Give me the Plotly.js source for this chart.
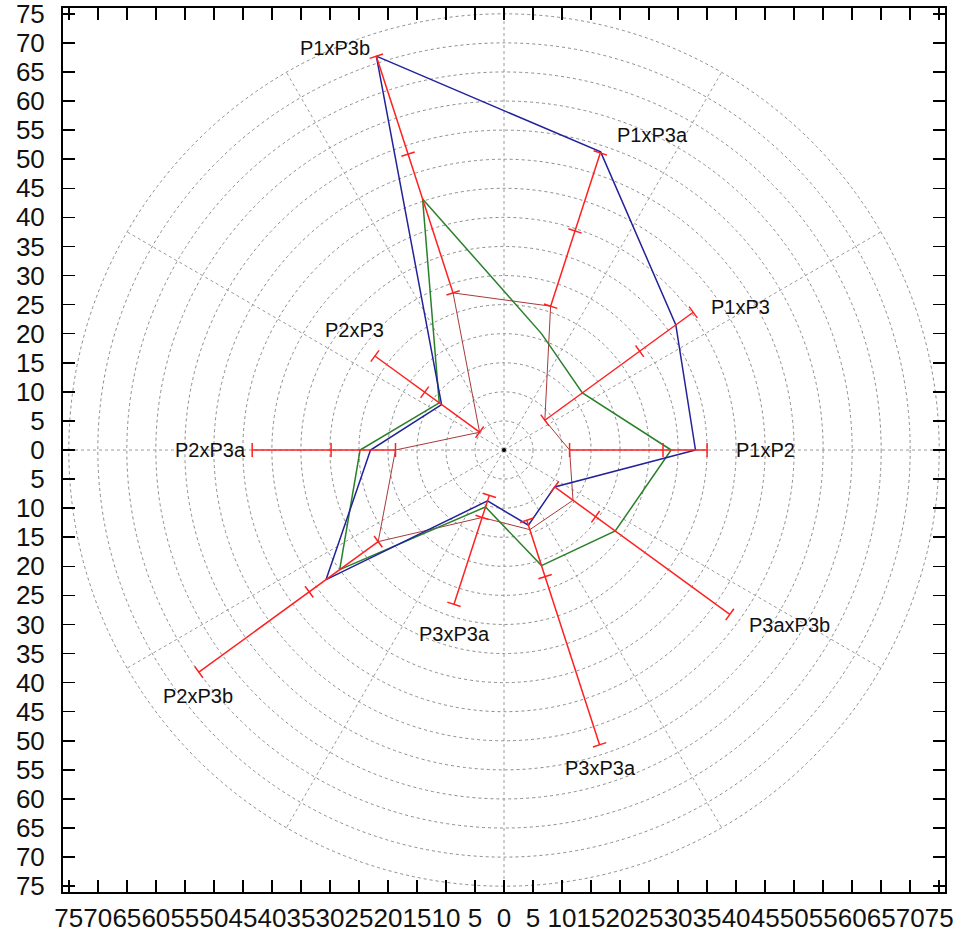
<!DOCTYPE html>
<html>
<head>
<meta charset="utf-8">
<script src="https://cdn.plot.ly/plotly-3.0.1.min.js"></script>
<style>html,body{margin:0;padding:0;background:#fff;}#chart{width:967px;height:932px;}</style>
</head>
<body>
<div id="chart"></div>
<script>
// Spoke names (one spoke every 36 degrees, counter-clockwise from +x)
const spokeNames = ['P1xP2','P1xP3','P1xP3a','P1xP3b','P2xP3','P2xP3a','P2xP3b','P3xP3a','P3xP3a','P3axP3b'];
// Series radii per spoke
const blueR  = [33.0, 36.6, 53.9, 71.2, 13.3, 23.0, 37.9,  9.2, 13.6, 10.8];
const greenR = [28.8, 16.7, 21.0, 45.4, 13.8, 24.8, 35.0, 10.3, 20.9, 23.7];
const brownR = [11.3,  8.7, 26.0, 28.4,  5.2, 18.7, 26.8, 12.2, 14.4, 14.7];
// Red error bars: inner end, middle tick, outer end
const redLow  = [11.3,  8.7, 26.0, 28.4,  5.2, 18.7, 26.8,  8.2, 12.7, 10.8];
const redMid  = [27.4, 28.9, 39.6, 53.5, 16.9, 29.8, 41.5, 12.2, 22.9, 19.5];
const redHigh = [35.0, 40.3, 53.7, 71.2, 27.5, 43.4, 65.0, 27.9, 53.3, 48.1];
// Axis ticks
const tickVals = [];
for (let v = -75; v <= 75; v += 5) tickVals.push(v);
const tickText = tickVals.map(v => String(Math.abs(v)));
// Grid rings
const ringRadii = [5,10,15,20,25,30,35,40,45,50,55,60,65,70,75];

const STEP = 36;
function px(r, k) { return r * Math.cos(k * STEP * Math.PI / 180); }
function py(r, k) { return r * Math.sin(k * STEP * Math.PI / 180); }

function polygon(rs, color, width) {
  const xs = [], ys = [];
  rs.forEach((r, k) => { xs.push(px(r, k)); ys.push(py(r, k)); });
  xs.push(xs[0]); ys.push(ys[0]);
  return {x: xs, y: ys, mode: 'lines', type: 'scatter', hoverinfo: 'skip',
          line: {color: color, width: width}, showlegend: false};
}

const traces = [];
traces.push({x: [0], y: [0], mode: 'markers', type: 'scatter', hoverinfo: 'skip',
             marker: {color: '#000', size: 4}, showlegend: false});
traces.push(polygon(brownR, '#a83a3a', 1));
traces.push(polygon(greenR, '#2a802a', 1.5));
traces.push(polygon(blueR, '#22229a', 1.5));

// red bars
const bx = [], by = [];
redLow.forEach((lo, k) => {
  bx.push(px(lo, k), px(redHigh[k], k), null);
  by.push(py(lo, k), py(redHigh[k], k), null);
});
traces.push({x: bx, y: by, mode: 'lines', type: 'scatter', hoverinfo: 'skip',
             line: {color: '#ff2020', width: 1.5}, showlegend: false});
// caps and middle ticks
const tx = [], ty = [], ta = [];
spokeNames.forEach((n, k) => {
  [redLow[k], redMid[k], redHigh[k]].forEach(r => {
    tx.push(px(r, k)); ty.push(py(r, k)); ta.push(-k * STEP);
  });
});
traces.push({x: tx, y: ty, mode: 'markers', type: 'scatter', hoverinfo: 'skip',
             marker: {symbol: 'line-ns', size: 10, angle: ta,
                      line: {color: '#ff2020', width: 1.5}, color: '#ff2020'},
             showlegend: false});

// grid shapes
const shapes = [];
ringRadii.forEach(r => {
  shapes.push({type: 'circle', xref: 'x', yref: 'y', x0: -r, x1: r, y0: -r, y1: r,
               line: {color: '#8c8c8c', width: 1, dash: 'dot'}, layer: 'below'});
});
for (let a = 0; a < 360; a += 30) {
  const t = a * Math.PI / 180;
  shapes.push({type: 'line', xref: 'x', yref: 'y', x0: 0, y0: 0,
               x1: 75 * Math.cos(t), y1: 75 * Math.sin(t),
               line: {color: '#9a9a9a', width: 1, dash: 'dot'}, layer: 'below'});
}

// spoke labels (positions in data units)
const labelX = [39.7, 35.4, 19.05, -22.8, -25.8, -44.2, -52.8, -8.5, 16.6, 49.2];
const labelY = [0, 24.6, 54.2, 69.2, 20.6, 0, -42.3, -31.6, -54.7, -30.1];
const labelAnchor = ['left','left','left','right','center','right','center','center','center','center'];
const annotations = spokeNames.map((n, k) => ({
  x: labelX[k], y: labelY[k], xref: 'x', yref: 'y', text: n, showarrow: false,
  xanchor: labelAnchor[k], yanchor: 'middle',
  font: {family: 'Liberation Sans, Arial, sans-serif', size: 20, color: '#111'}
}));

const tickFont = {family: 'Liberation Sans', size: 26, color: '#111'};
const layout = {
  width: 967, height: 932,
  margin: {l: 63, r: 22, t: 8, b: 40},
  paper_bgcolor: '#fff', plot_bgcolor: '#fff',
  xaxis: {
    range: [-76, 76], tickmode: 'array', tickvals: tickVals, ticktext: tickText,
    showgrid: false, zeroline: false, showline: true, mirror: 'ticks',
    linecolor: '#000', linewidth: 2, ticks: 'inside', ticklen: 12, tickwidth: 1.5,
    tickcolor: '#000', tickangle: 0, tickfont: tickFont, ticklabelstandoff: 2,
    ticklabeloverflow: 'allow'
  },
  yaxis: {
    range: [-76, 76], tickmode: 'array', tickvals: tickVals, ticktext: tickText,
    showgrid: false, zeroline: false, showline: true, mirror: 'ticks',
    linecolor: '#000', linewidth: 2, ticks: 'inside', ticklen: 12, tickwidth: 1.5,
    tickcolor: '#000', tickfont: tickFont, ticklabelstandoff: 11,
    ticklabeloverflow: 'allow'
  },
  shapes: shapes, annotations: annotations, showlegend: false
};

Plotly.newPlot('chart', traces, layout, {displayModeBar: false, staticPlot: true});
</script>
</body>
</html>
